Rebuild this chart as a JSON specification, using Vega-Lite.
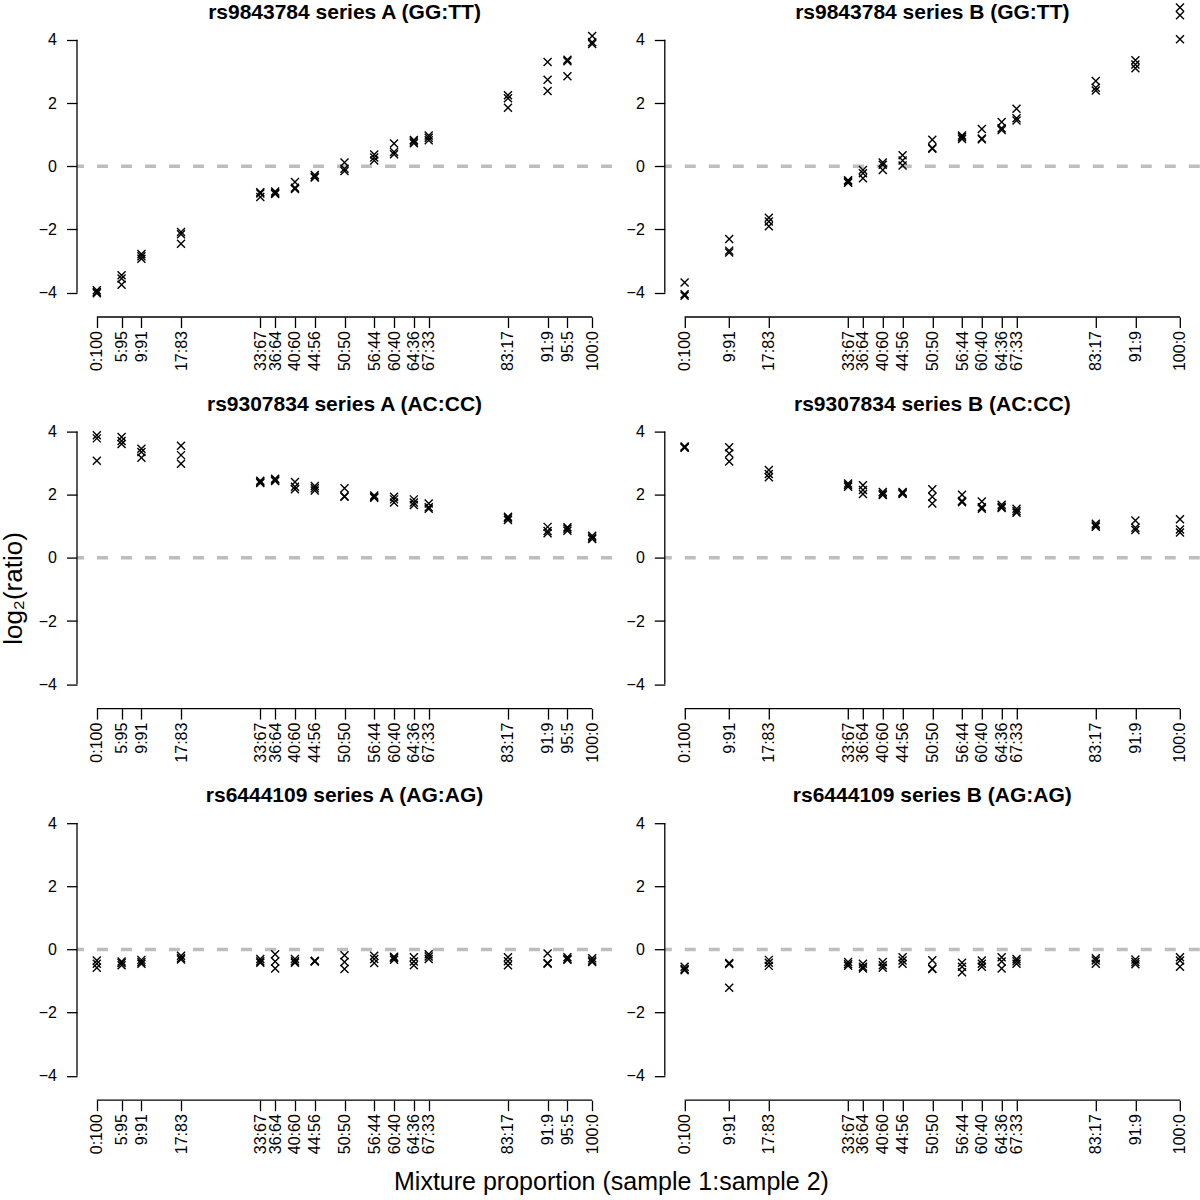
{
"$schema": "https://vega.github.io/schema/vega-lite/v6.json",
"padding": {"left": 0, "top": 0, "right": 0, "bottom": 0},
"background": "white",
"config": {
  "view": {"stroke": null},
  "font": "Liberation Sans",
  "axis": {"domain": false, "grid": false, "tickColor": "black", "tickWidth": 1.3, "tickSize": 10.5, "labelColor": "black", "labelFontSize": 16, "labelFont": "Liberation Sans", "labelOverlap": false, "labelFlush": false, "labelBound": false, "titleColor": "black", "titleFont": "Liberation Sans", "titleFontWeight": "normal", "titleFontSize": 25},
  "axisY": {"labelFontSize": 16},
  "title": {"fontSize": 21, "fontWeight": "bold", "font": "Liberation Sans", "color": "black", "anchor": "middle", "frame": "group", "offset": -23, "baseline": "alphabetic"}
},
"datasets": {
"pts": [
{"panel":"A1","sample1":0,"log2ratio":-3.92},{"panel":"A1","sample1":0,"log2ratio":-3.98},{"panel":"A1","sample1":0,"log2ratio":-4.02},
{"panel":"A1","sample1":5,"log2ratio":-3.45},{"panel":"A1","sample1":5,"log2ratio":-3.55},{"panel":"A1","sample1":5,"log2ratio":-3.75},
{"panel":"A1","sample1":9,"log2ratio":-2.78},{"panel":"A1","sample1":9,"log2ratio":-2.85},{"panel":"A1","sample1":9,"log2ratio":-2.93},
{"panel":"A1","sample1":17,"log2ratio":-2.08},{"panel":"A1","sample1":17,"log2ratio":-2.15},{"panel":"A1","sample1":17,"log2ratio":-2.45},
{"panel":"A1","sample1":33,"log2ratio":-0.82},{"panel":"A1","sample1":33,"log2ratio":-0.86},{"panel":"A1","sample1":33,"log2ratio":-0.97},
{"panel":"A1","sample1":36,"log2ratio":-0.8},{"panel":"A1","sample1":36,"log2ratio":-0.85},{"panel":"A1","sample1":36,"log2ratio":-0.88},
{"panel":"A1","sample1":40,"log2ratio":-0.5},{"panel":"A1","sample1":40,"log2ratio":-0.68},{"panel":"A1","sample1":40,"log2ratio":-0.72},
{"panel":"A1","sample1":44,"log2ratio":-0.28},{"panel":"A1","sample1":44,"log2ratio":-0.33},{"panel":"A1","sample1":44,"log2ratio":-0.36},
{"panel":"A1","sample1":50,"log2ratio":0.12},{"panel":"A1","sample1":50,"log2ratio":-0.08},{"panel":"A1","sample1":50,"log2ratio":-0.15},
{"panel":"A1","sample1":56,"log2ratio":0.37},{"panel":"A1","sample1":56,"log2ratio":0.28},{"panel":"A1","sample1":56,"log2ratio":0.18},
{"panel":"A1","sample1":60,"log2ratio":0.72},{"panel":"A1","sample1":60,"log2ratio":0.45},{"panel":"A1","sample1":60,"log2ratio":0.38},
{"panel":"A1","sample1":64,"log2ratio":0.83},{"panel":"A1","sample1":64,"log2ratio":0.78},{"panel":"A1","sample1":64,"log2ratio":0.73},
{"panel":"A1","sample1":67,"log2ratio":0.97},{"panel":"A1","sample1":67,"log2ratio":0.9},{"panel":"A1","sample1":67,"log2ratio":0.82},
{"panel":"A1","sample1":83,"log2ratio":2.25},{"panel":"A1","sample1":83,"log2ratio":2.15},{"panel":"A1","sample1":83,"log2ratio":1.85},
{"panel":"A1","sample1":91,"log2ratio":3.3},{"panel":"A1","sample1":91,"log2ratio":2.74},{"panel":"A1","sample1":91,"log2ratio":2.38},
{"panel":"A1","sample1":95,"log2ratio":3.37},{"panel":"A1","sample1":95,"log2ratio":3.32},{"panel":"A1","sample1":95,"log2ratio":2.85},
{"panel":"A1","sample1":100,"log2ratio":4.12},{"panel":"A1","sample1":100,"log2ratio":3.92},{"panel":"A1","sample1":100,"log2ratio":3.87},

{"panel":"B1","sample1":0,"log2ratio":-3.68},{"panel":"B1","sample1":0,"log2ratio":-4.05},{"panel":"B1","sample1":0,"log2ratio":-4.1},
{"panel":"B1","sample1":9,"log2ratio":-2.3},{"panel":"B1","sample1":9,"log2ratio":-2.67},{"panel":"B1","sample1":9,"log2ratio":-2.73},
{"panel":"B1","sample1":17,"log2ratio":-1.63},{"panel":"B1","sample1":17,"log2ratio":-1.75},{"panel":"B1","sample1":17,"log2ratio":-1.9},
{"panel":"B1","sample1":33,"log2ratio":-0.44},{"panel":"B1","sample1":33,"log2ratio":-0.48},{"panel":"B1","sample1":33,"log2ratio":-0.52},
{"panel":"B1","sample1":36,"log2ratio":-0.12},{"panel":"B1","sample1":36,"log2ratio":-0.22},{"panel":"B1","sample1":36,"log2ratio":-0.38},
{"panel":"B1","sample1":40,"log2ratio":0.12},{"panel":"B1","sample1":40,"log2ratio":0.05},{"panel":"B1","sample1":40,"log2ratio":-0.12},
{"panel":"B1","sample1":44,"log2ratio":0.35},{"panel":"B1","sample1":44,"log2ratio":0.18},{"panel":"B1","sample1":44,"log2ratio":0.02},
{"panel":"B1","sample1":50,"log2ratio":0.84},{"panel":"B1","sample1":50,"log2ratio":0.58},{"panel":"B1","sample1":50,"log2ratio":0.55},
{"panel":"B1","sample1":56,"log2ratio":0.97},{"panel":"B1","sample1":56,"log2ratio":0.92},{"panel":"B1","sample1":56,"log2ratio":0.86},
{"panel":"B1","sample1":60,"log2ratio":1.18},{"panel":"B1","sample1":60,"log2ratio":0.88},{"panel":"B1","sample1":60,"log2ratio":0.85},
{"panel":"B1","sample1":64,"log2ratio":1.4},{"panel":"B1","sample1":64,"log2ratio":1.2},{"panel":"B1","sample1":64,"log2ratio":1.15},
{"panel":"B1","sample1":67,"log2ratio":1.82},{"panel":"B1","sample1":67,"log2ratio":1.52},{"panel":"B1","sample1":67,"log2ratio":1.45},
{"panel":"B1","sample1":83,"log2ratio":2.7},{"panel":"B1","sample1":83,"log2ratio":2.48},{"panel":"B1","sample1":83,"log2ratio":2.4},
{"panel":"B1","sample1":91,"log2ratio":3.35},{"panel":"B1","sample1":91,"log2ratio":3.22},{"panel":"B1","sample1":91,"log2ratio":3.1},
{"panel":"B1","sample1":100,"log2ratio":5.02},{"panel":"B1","sample1":100,"log2ratio":4.78},{"panel":"B1","sample1":100,"log2ratio":4.02},

{"panel":"A2","sample1":0,"log2ratio":3.88},{"panel":"A2","sample1":0,"log2ratio":3.78},{"panel":"A2","sample1":0,"log2ratio":3.07},
{"panel":"A2","sample1":5,"log2ratio":3.82},{"panel":"A2","sample1":5,"log2ratio":3.7},{"panel":"A2","sample1":5,"log2ratio":3.6},
{"panel":"A2","sample1":9,"log2ratio":3.45},{"panel":"A2","sample1":9,"log2ratio":3.35},{"panel":"A2","sample1":9,"log2ratio":3.17},
{"panel":"A2","sample1":17,"log2ratio":3.55},{"panel":"A2","sample1":17,"log2ratio":3.25},{"panel":"A2","sample1":17,"log2ratio":2.98},
{"panel":"A2","sample1":33,"log2ratio":2.44},{"panel":"A2","sample1":33,"log2ratio":2.4},{"panel":"A2","sample1":33,"log2ratio":2.37},
{"panel":"A2","sample1":36,"log2ratio":2.5},{"panel":"A2","sample1":36,"log2ratio":2.47},{"panel":"A2","sample1":36,"log2ratio":2.43},
{"panel":"A2","sample1":40,"log2ratio":2.4},{"panel":"A2","sample1":40,"log2ratio":2.25},{"panel":"A2","sample1":40,"log2ratio":2.17},
{"panel":"A2","sample1":44,"log2ratio":2.27},{"panel":"A2","sample1":44,"log2ratio":2.2},{"panel":"A2","sample1":44,"log2ratio":2.13},
{"panel":"A2","sample1":50,"log2ratio":2.2},{"panel":"A2","sample1":50,"log2ratio":1.95},{"panel":"A2","sample1":50,"log2ratio":1.93},
{"panel":"A2","sample1":56,"log2ratio":1.97},{"panel":"A2","sample1":56,"log2ratio":1.93},{"panel":"A2","sample1":56,"log2ratio":1.9},
{"panel":"A2","sample1":60,"log2ratio":1.93},{"panel":"A2","sample1":60,"log2ratio":1.85},{"panel":"A2","sample1":60,"log2ratio":1.75},
{"panel":"A2","sample1":64,"log2ratio":1.85},{"panel":"A2","sample1":64,"log2ratio":1.75},{"panel":"A2","sample1":64,"log2ratio":1.67},
{"panel":"A2","sample1":67,"log2ratio":1.72},{"panel":"A2","sample1":67,"log2ratio":1.6},{"panel":"A2","sample1":67,"log2ratio":1.55},
{"panel":"A2","sample1":83,"log2ratio":1.3},{"panel":"A2","sample1":83,"log2ratio":1.25},{"panel":"A2","sample1":83,"log2ratio":1.2},
{"panel":"A2","sample1":91,"log2ratio":0.98},{"panel":"A2","sample1":91,"log2ratio":0.85},{"panel":"A2","sample1":91,"log2ratio":0.78},
{"panel":"A2","sample1":95,"log2ratio":0.97},{"panel":"A2","sample1":95,"log2ratio":0.92},{"panel":"A2","sample1":95,"log2ratio":0.86},
{"panel":"A2","sample1":100,"log2ratio":0.7},{"panel":"A2","sample1":100,"log2ratio":0.64},{"panel":"A2","sample1":100,"log2ratio":0.6},

{"panel":"B2","sample1":0,"log2ratio":3.52},{"panel":"B2","sample1":0,"log2ratio":3.5},{"panel":"B2","sample1":0,"log2ratio":3.48},
{"panel":"B2","sample1":9,"log2ratio":3.5},{"panel":"B2","sample1":9,"log2ratio":3.3},{"panel":"B2","sample1":9,"log2ratio":3.05},
{"panel":"B2","sample1":17,"log2ratio":2.78},{"panel":"B2","sample1":17,"log2ratio":2.65},{"panel":"B2","sample1":17,"log2ratio":2.55},
{"panel":"B2","sample1":33,"log2ratio":2.35},{"panel":"B2","sample1":33,"log2ratio":2.3},{"panel":"B2","sample1":33,"log2ratio":2.25},
{"panel":"B2","sample1":36,"log2ratio":2.3},{"panel":"B2","sample1":36,"log2ratio":2.15},{"panel":"B2","sample1":36,"log2ratio":2.02},
{"panel":"B2","sample1":40,"log2ratio":2.08},{"panel":"B2","sample1":40,"log2ratio":2.03},{"panel":"B2","sample1":40,"log2ratio":1.99},
{"panel":"B2","sample1":44,"log2ratio":2.08},{"panel":"B2","sample1":44,"log2ratio":2.05},{"panel":"B2","sample1":44,"log2ratio":2.02},
{"panel":"B2","sample1":50,"log2ratio":2.17},{"panel":"B2","sample1":50,"log2ratio":1.93},{"panel":"B2","sample1":50,"log2ratio":1.72},
{"panel":"B2","sample1":56,"log2ratio":2.0},{"panel":"B2","sample1":56,"log2ratio":1.8},{"panel":"B2","sample1":56,"log2ratio":1.76},
{"panel":"B2","sample1":60,"log2ratio":1.78},{"panel":"B2","sample1":60,"log2ratio":1.6},{"panel":"B2","sample1":60,"log2ratio":1.55},
{"panel":"B2","sample1":64,"log2ratio":1.68},{"panel":"B2","sample1":64,"log2ratio":1.62},{"panel":"B2","sample1":64,"log2ratio":1.58},
{"panel":"B2","sample1":67,"log2ratio":1.55},{"panel":"B2","sample1":67,"log2ratio":1.48},{"panel":"B2","sample1":67,"log2ratio":1.43},
{"panel":"B2","sample1":83,"log2ratio":1.08},{"panel":"B2","sample1":83,"log2ratio":1.02},{"panel":"B2","sample1":83,"log2ratio":0.98},
{"panel":"B2","sample1":91,"log2ratio":1.18},{"panel":"B2","sample1":91,"log2ratio":0.95},{"panel":"B2","sample1":91,"log2ratio":0.88},
{"panel":"B2","sample1":100,"log2ratio":1.22},{"panel":"B2","sample1":100,"log2ratio":0.9},{"panel":"B2","sample1":100,"log2ratio":0.8},

{"panel":"A3","sample1":0,"log2ratio":-0.35},{"panel":"A3","sample1":0,"log2ratio":-0.45},{"panel":"A3","sample1":0,"log2ratio":-0.58},
{"panel":"A3","sample1":5,"log2ratio":-0.38},{"panel":"A3","sample1":5,"log2ratio":-0.43},{"panel":"A3","sample1":5,"log2ratio":-0.5},
{"panel":"A3","sample1":9,"log2ratio":-0.33},{"panel":"A3","sample1":9,"log2ratio":-0.4},{"panel":"A3","sample1":9,"log2ratio":-0.45},
{"panel":"A3","sample1":17,"log2ratio":-0.2},{"panel":"A3","sample1":17,"log2ratio":-0.27},{"panel":"A3","sample1":17,"log2ratio":-0.32},
{"panel":"A3","sample1":33,"log2ratio":-0.3},{"panel":"A3","sample1":33,"log2ratio":-0.37},{"panel":"A3","sample1":33,"log2ratio":-0.42},
{"panel":"A3","sample1":36,"log2ratio":-0.15},{"panel":"A3","sample1":36,"log2ratio":-0.38},{"panel":"A3","sample1":36,"log2ratio":-0.6},
{"panel":"A3","sample1":40,"log2ratio":-0.3},{"panel":"A3","sample1":40,"log2ratio":-0.37},{"panel":"A3","sample1":40,"log2ratio":-0.42},
{"panel":"A3","sample1":44,"log2ratio":-0.36},{"panel":"A3","sample1":44,"log2ratio":-0.37},{"panel":"A3","sample1":44,"log2ratio":-0.38},
{"panel":"A3","sample1":50,"log2ratio":-0.18},{"panel":"A3","sample1":50,"log2ratio":-0.4},{"panel":"A3","sample1":50,"log2ratio":-0.62},
{"panel":"A3","sample1":56,"log2ratio":-0.2},{"panel":"A3","sample1":56,"log2ratio":-0.3},{"panel":"A3","sample1":56,"log2ratio":-0.43},
{"panel":"A3","sample1":60,"log2ratio":-0.23},{"panel":"A3","sample1":60,"log2ratio":-0.28},{"panel":"A3","sample1":60,"log2ratio":-0.33},
{"panel":"A3","sample1":64,"log2ratio":-0.25},{"panel":"A3","sample1":64,"log2ratio":-0.38},{"panel":"A3","sample1":64,"log2ratio":-0.5},
{"panel":"A3","sample1":67,"log2ratio":-0.15},{"panel":"A3","sample1":67,"log2ratio":-0.22},{"panel":"A3","sample1":67,"log2ratio":-0.3},
{"panel":"A3","sample1":83,"log2ratio":-0.25},{"panel":"A3","sample1":83,"log2ratio":-0.37},{"panel":"A3","sample1":83,"log2ratio":-0.5},
{"panel":"A3","sample1":91,"log2ratio":-0.13},{"panel":"A3","sample1":91,"log2ratio":-0.43},{"panel":"A3","sample1":91,"log2ratio":-0.45},
{"panel":"A3","sample1":95,"log2ratio":-0.25},{"panel":"A3","sample1":95,"log2ratio":-0.3},{"panel":"A3","sample1":95,"log2ratio":-0.33},
{"panel":"A3","sample1":100,"log2ratio":-0.28},{"panel":"A3","sample1":100,"log2ratio":-0.35},{"panel":"A3","sample1":100,"log2ratio":-0.4},

{"panel":"B3","sample1":0,"log2ratio":-0.55},{"panel":"B3","sample1":0,"log2ratio":-0.62},{"panel":"B3","sample1":0,"log2ratio":-0.66},
{"panel":"B3","sample1":9,"log2ratio":-0.43},{"panel":"B3","sample1":9,"log2ratio":-0.46},{"panel":"B3","sample1":9,"log2ratio":-1.21},
{"panel":"B3","sample1":17,"log2ratio":-0.33},{"panel":"B3","sample1":17,"log2ratio":-0.42},{"panel":"B3","sample1":17,"log2ratio":-0.52},
{"panel":"B3","sample1":33,"log2ratio":-0.4},{"panel":"B3","sample1":33,"log2ratio":-0.47},{"panel":"B3","sample1":33,"log2ratio":-0.52},
{"panel":"B3","sample1":36,"log2ratio":-0.45},{"panel":"B3","sample1":36,"log2ratio":-0.55},{"panel":"B3","sample1":36,"log2ratio":-0.6},
{"panel":"B3","sample1":40,"log2ratio":-0.4},{"panel":"B3","sample1":40,"log2ratio":-0.5},{"panel":"B3","sample1":40,"log2ratio":-0.58},
{"panel":"B3","sample1":44,"log2ratio":-0.25},{"panel":"B3","sample1":44,"log2ratio":-0.35},{"panel":"B3","sample1":44,"log2ratio":-0.45},
{"panel":"B3","sample1":50,"log2ratio":-0.34},{"panel":"B3","sample1":50,"log2ratio":-0.6},{"panel":"B3","sample1":50,"log2ratio":-0.62},
{"panel":"B3","sample1":56,"log2ratio":-0.42},{"panel":"B3","sample1":56,"log2ratio":-0.55},{"panel":"B3","sample1":56,"log2ratio":-0.72},
{"panel":"B3","sample1":60,"log2ratio":-0.35},{"panel":"B3","sample1":60,"log2ratio":-0.45},{"panel":"B3","sample1":60,"log2ratio":-0.55},
{"panel":"B3","sample1":64,"log2ratio":-0.25},{"panel":"B3","sample1":64,"log2ratio":-0.38},{"panel":"B3","sample1":64,"log2ratio":-0.6},
{"panel":"B3","sample1":67,"log2ratio":-0.3},{"panel":"B3","sample1":67,"log2ratio":-0.37},{"panel":"B3","sample1":67,"log2ratio":-0.45},
{"panel":"B3","sample1":83,"log2ratio":-0.28},{"panel":"B3","sample1":83,"log2ratio":-0.35},{"panel":"B3","sample1":83,"log2ratio":-0.45},
{"panel":"B3","sample1":91,"log2ratio":-0.32},{"panel":"B3","sample1":91,"log2ratio":-0.4},{"panel":"B3","sample1":91,"log2ratio":-0.47},
{"panel":"B3","sample1":100,"log2ratio":-0.25},{"panel":"B3","sample1":100,"log2ratio":-0.35},{"panel":"B3","sample1":100,"log2ratio":-0.55}
]
},
"columns": 2,
"spacing": {"row": 74.6, "column": 52.8},
"bounds": "flush",
"concat": [
{
  "width": 535, "height": 317,
  "title": {"text": "rs9843784 series A (GG:TT)"},
  "layer": [
    {"data": {"values": [{}]}, "mark": {"type": "rule", "color": "#bebebe", "strokeWidth": 3.5, "strokeDash": [11, 13]}, "encoding": {"y": {"datum": 0}}},
    {"data": {"values": [{}]}, "mark": {"type": "rule", "color": "black", "strokeWidth": 1.3}, "encoding": {"x": {"datum": 0}, "x2": {"datum": 100}, "y": {"datum": -4.77}}},
    {"data": {"values": [{}]}, "mark": {"type": "rule", "color": "black", "strokeWidth": 1.3}, "encoding": {"y": {"datum": -4}, "y2": {"datum": 4}, "x": {"datum": -4}}},
    {"data": {"name": "pts"}, "transform": [{"filter": "datum.panel == 'A1'"}],
     "mark": {"type": "point", "shape": "M-1,-1L1,1M-1,1L1,-1", "size": 64, "filled": false, "color": "black", "strokeWidth": 1.4, "opacity": 1},
     "encoding": {
       "x": {"field": "sample1", "type": "quantitative", "scale": {"domain": [-4, 104], "nice": false, "zero": false}, "axis": {"title": null, "tickCount": 30, "labelOverlap": false, "values": [0,5,9,17,33,36,40,44,50,56,60,64,67,83,91,95,100], "labelExpr": "datum.value + ':' + (100 - datum.value)", "labelAngle": 270, "labelPadding": 3}},
       "y": {"field": "log2ratio", "type": "quantitative", "scale": {"domain": [-4.77, 5.26], "nice": false, "zero": false}, "axis": {"title": null, "tickCount": 10, "values": [-4,-2,0,2,4], "labelAngle": 0, "labelPadding": 10}}
     }}
  ]
},
{
  "width": 535, "height": 317,
  "title": {"text": "rs9843784 series B (GG:TT)"},
  "layer": [
    {"data": {"values": [{}]}, "mark": {"type": "rule", "color": "#bebebe", "strokeWidth": 3.5, "strokeDash": [11, 13]}, "encoding": {"y": {"datum": 0}}},
    {"data": {"values": [{}]}, "mark": {"type": "rule", "color": "black", "strokeWidth": 1.3}, "encoding": {"x": {"datum": 0}, "x2": {"datum": 100}, "y": {"datum": -4.77}}},
    {"data": {"values": [{}]}, "mark": {"type": "rule", "color": "black", "strokeWidth": 1.3}, "encoding": {"y": {"datum": -4}, "y2": {"datum": 4}, "x": {"datum": -4}}},
    {"data": {"name": "pts"}, "transform": [{"filter": "datum.panel == 'B1'"}],
     "mark": {"type": "point", "shape": "M-1,-1L1,1M-1,1L1,-1", "size": 64, "filled": false, "color": "black", "strokeWidth": 1.4, "opacity": 1},
     "encoding": {
       "x": {"field": "sample1", "type": "quantitative", "scale": {"domain": [-4, 104], "nice": false, "zero": false}, "axis": {"title": null, "tickCount": 30, "labelOverlap": false, "values": [0,9,17,33,36,40,44,50,56,60,64,67,83,91,100], "labelExpr": "datum.value + ':' + (100 - datum.value)", "labelAngle": 270, "labelPadding": 3}},
       "y": {"field": "log2ratio", "type": "quantitative", "scale": {"domain": [-4.77, 5.26], "nice": false, "zero": false}, "axis": {"title": null, "tickCount": 10, "values": [-4,-2,0,2,4], "labelAngle": 0, "labelPadding": 10}}
     }}
  ]
},
{
  "width": 535, "height": 317,
  "title": {"text": "rs9307834 series A (AC:CC)"},
  "layer": [
    {"data": {"values": [{}]}, "mark": {"type": "rule", "color": "#bebebe", "strokeWidth": 3.5, "strokeDash": [11, 13]}, "encoding": {"y": {"datum": 0}}},
    {"data": {"values": [{}]}, "mark": {"type": "rule", "color": "black", "strokeWidth": 1.3}, "encoding": {"x": {"datum": 0}, "x2": {"datum": 100}, "y": {"datum": -4.77}}},
    {"data": {"values": [{}]}, "mark": {"type": "rule", "color": "black", "strokeWidth": 1.3}, "encoding": {"y": {"datum": -4}, "y2": {"datum": 4}, "x": {"datum": -4}}},
    {"data": {"name": "pts"}, "transform": [{"filter": "datum.panel == 'A2'"}],
     "mark": {"type": "point", "shape": "M-1,-1L1,1M-1,1L1,-1", "size": 64, "filled": false, "color": "black", "strokeWidth": 1.4, "opacity": 1},
     "encoding": {
       "x": {"field": "sample1", "type": "quantitative", "scale": {"domain": [-4, 104], "nice": false, "zero": false}, "axis": {"title": null, "tickCount": 30, "labelOverlap": false, "values": [0,5,9,17,33,36,40,44,50,56,60,64,67,83,91,95,100], "labelExpr": "datum.value + ':' + (100 - datum.value)", "labelAngle": 270, "labelPadding": 3}},
       "y": {"field": "log2ratio", "type": "quantitative", "scale": {"domain": [-4.77, 5.26], "nice": false, "zero": false}, "axis": {"title": "log₂(ratio)", "titleFontSize": 26, "titleX": -63.7, "titleY": 196.4, "titleAngle": 270, "titleBaseline": "middle", "titleAlign": "center", "tickCount": 10, "values": [-4,-2,0,2,4], "labelAngle": 0, "labelPadding": 10}}
     }}
  ]
},
{
  "width": 535, "height": 317,
  "title": {"text": "rs9307834 series B (AC:CC)"},
  "layer": [
    {"data": {"values": [{}]}, "mark": {"type": "rule", "color": "#bebebe", "strokeWidth": 3.5, "strokeDash": [11, 13]}, "encoding": {"y": {"datum": 0}}},
    {"data": {"values": [{}]}, "mark": {"type": "rule", "color": "black", "strokeWidth": 1.3}, "encoding": {"x": {"datum": 0}, "x2": {"datum": 100}, "y": {"datum": -4.77}}},
    {"data": {"values": [{}]}, "mark": {"type": "rule", "color": "black", "strokeWidth": 1.3}, "encoding": {"y": {"datum": -4}, "y2": {"datum": 4}, "x": {"datum": -4}}},
    {"data": {"name": "pts"}, "transform": [{"filter": "datum.panel == 'B2'"}],
     "mark": {"type": "point", "shape": "M-1,-1L1,1M-1,1L1,-1", "size": 64, "filled": false, "color": "black", "strokeWidth": 1.4, "opacity": 1},
     "encoding": {
       "x": {"field": "sample1", "type": "quantitative", "scale": {"domain": [-4, 104], "nice": false, "zero": false}, "axis": {"title": null, "tickCount": 30, "labelOverlap": false, "values": [0,9,17,33,36,40,44,50,56,60,64,67,83,91,100], "labelExpr": "datum.value + ':' + (100 - datum.value)", "labelAngle": 270, "labelPadding": 3}},
       "y": {"field": "log2ratio", "type": "quantitative", "scale": {"domain": [-4.77, 5.26], "nice": false, "zero": false}, "axis": {"title": null, "tickCount": 10, "values": [-4,-2,0,2,4], "labelAngle": 0, "labelPadding": 10}}
     }}
  ]
},
{
  "width": 535, "height": 317,
  "title": {"text": "rs6444109 series A (AG:AG)"},
  "layer": [
    {"data": {"values": [{}]}, "mark": {"type": "rule", "color": "#bebebe", "strokeWidth": 3.5, "strokeDash": [11, 13]}, "encoding": {"y": {"datum": 0}}},
    {"data": {"values": [{}]}, "mark": {"type": "rule", "color": "black", "strokeWidth": 1.3}, "encoding": {"x": {"datum": 0}, "x2": {"datum": 100}, "y": {"datum": -4.77}}},
    {"data": {"values": [{}]}, "mark": {"type": "rule", "color": "black", "strokeWidth": 1.3}, "encoding": {"y": {"datum": -4}, "y2": {"datum": 4}, "x": {"datum": -4}}},
    {"data": {"name": "pts"}, "transform": [{"filter": "datum.panel == 'A3'"}],
     "mark": {"type": "point", "shape": "M-1,-1L1,1M-1,1L1,-1", "size": 64, "filled": false, "color": "black", "strokeWidth": 1.4, "opacity": 1},
     "encoding": {
       "x": {"field": "sample1", "type": "quantitative", "scale": {"domain": [-4, 104], "nice": false, "zero": false}, "axis": {"title": "Mixture proportion (sample 1:sample 2)", "titleX": 534, "titleY": 81, "titleBaseline": "middle", "titleAlign": "center", "tickCount": 30, "labelOverlap": false, "values": [0,5,9,17,33,36,40,44,50,56,60,64,67,83,91,95,100], "labelExpr": "datum.value + ':' + (100 - datum.value)", "labelAngle": 270, "labelPadding": 3}},
       "y": {"field": "log2ratio", "type": "quantitative", "scale": {"domain": [-4.77, 5.26], "nice": false, "zero": false}, "axis": {"title": null, "tickCount": 10, "values": [-4,-2,0,2,4], "labelAngle": 0, "labelPadding": 10}}
     }}
  ]
},
{
  "width": 535, "height": 317,
  "title": {"text": "rs6444109 series B (AG:AG)"},
  "layer": [
    {"data": {"values": [{}]}, "mark": {"type": "rule", "color": "#bebebe", "strokeWidth": 3.5, "strokeDash": [11, 13]}, "encoding": {"y": {"datum": 0}}},
    {"data": {"values": [{}]}, "mark": {"type": "rule", "color": "black", "strokeWidth": 1.3}, "encoding": {"x": {"datum": 0}, "x2": {"datum": 100}, "y": {"datum": -4.77}}},
    {"data": {"values": [{}]}, "mark": {"type": "rule", "color": "black", "strokeWidth": 1.3}, "encoding": {"y": {"datum": -4}, "y2": {"datum": 4}, "x": {"datum": -4}}},
    {"data": {"name": "pts"}, "transform": [{"filter": "datum.panel == 'B3'"}],
     "mark": {"type": "point", "shape": "M-1,-1L1,1M-1,1L1,-1", "size": 64, "filled": false, "color": "black", "strokeWidth": 1.4, "opacity": 1},
     "encoding": {
       "x": {"field": "sample1", "type": "quantitative", "scale": {"domain": [-4, 104], "nice": false, "zero": false}, "axis": {"title": null, "tickCount": 30, "labelOverlap": false, "values": [0,9,17,33,36,40,44,50,56,60,64,67,83,91,100], "labelExpr": "datum.value + ':' + (100 - datum.value)", "labelAngle": 270, "labelPadding": 3}},
       "y": {"field": "log2ratio", "type": "quantitative", "scale": {"domain": [-4.77, 5.26], "nice": false, "zero": false}, "axis": {"title": null, "tickCount": 10, "values": [-4,-2,0,2,4], "labelAngle": 0, "labelPadding": 10}}
     }}
  ]
}
]
}
